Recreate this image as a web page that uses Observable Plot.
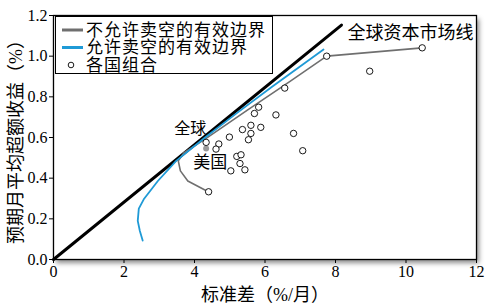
<!DOCTYPE html>
<html>
<head>
<meta charset="utf-8">
<script src="https://cdn.jsdelivr.net/npm/d3@7"></script>
<script src="https://cdn.jsdelivr.net/npm/@observablehq/plot@0.6"></script>
<style>
  body { margin: 0; background: white; }
  #chart svg { display: block; }
</style>
</head>
<body>
<div id="chart"></div>
<script>
// ---- data ----
const xTicks = [0, 2, 4, 6, 8, 10, 12];
const yTicks = [0, 0.2, 0.4, 0.6, 0.8, 1.0, 1.2];

// Capital market line (start and end)
const cmlX = [0, 8.17];
const cmlY = [0, 1.153];

// Efficient frontier, no short selling
const noShortX = [4.39, 3.81, 3.60, 3.54, 3.70, 4.30, 5.50, 6.70, 7.75, 10.46];
const noShortY = [0.333, 0.386, 0.436, 0.485, 0.525, 0.592, 0.735, 0.875, 1.000, 1.041];

// Efficient frontier, short selling allowed
const shortX = [2.53, 2.45, 2.39, 2.42, 2.56, 2.96, 3.48, 4.30, 5.20, 6.20, 7.66];
const shortY = [0.093, 0.140, 0.190, 0.250, 0.296, 0.386, 0.485, 0.600, 0.720, 0.850, 1.033];

// Country portfolios
const countryX = [10.46, 7.75, 8.97, 6.56, 5.82, 5.70, 6.31, 5.60, 5.36, 5.88, 5.60, 5.53, 4.99, 6.81, 7.07, 4.69, 4.61, 4.33, 5.20, 5.32, 5.29, 5.43, 5.03, 4.40];
const countryY = [1.041, 1.000, 0.926, 0.843, 0.749, 0.718, 0.711, 0.660, 0.639, 0.650, 0.620, 0.589, 0.602, 0.620, 0.535, 0.568, 0.543, 0.576, 0.507, 0.515, 0.472, 0.441, 0.436, 0.333];

// US point
const usX = [4.33];
const usY = [0.546];

const legendLabels = ["不允许卖空的有效边界", "允许卖空的有效边界", "各国组合"];
const xLabel = "标准差（%/月）";
const yLabel = "预期月平均超额收益（%）";
const cmlLabel = "全球资本市场线";
const globalLabel = "全球";
const usLabel = "美国";

// ---- build tables ----
const cml = cmlX.map((x, i) => ({x, y: cmlY[i]}));
const noShort = noShortX.map((x, i) => ({x, y: noShortY[i]}));
const shortA = shortX.map((x, i) => ({x, y: shortY[i]}));
const countries = countryX.map((x, i) => ({x, y: countryY[i]}));
const us = usX.map((x, i) => ({x, y: usY[i]}));
const globalPt = countries.filter(d => d.x === 4.33);

const GRAY = "#6f6f6f";
const BLUE = "#1f9ad6";
const FONT = "'Liberation Serif', 'Noto Sans CJK SC', serif";

const W = 490, H = 307, ML = 53, MR = 14, MT = 15, MB = 48;

const chart = Plot.plot({
  width: W,
  height: H,
  marginLeft: ML,
  marginRight: MR,
  marginTop: MT,
  marginBottom: MB,
  style: {fontFamily: FONT, fontSize: "16px", background: "white", color: "black", overflow: "visible"},
  x: {domain: [0, 12], ticks: xTicks, tickSize: 4, tickPadding: 2, label: xLabel, labelAnchor: "center", labelOffset: 41, labelArrow: "none"},
  y: {domain: [0, 1.2], ticks: yTicks, tickSize: 4, tickPadding: 2, tickFormat: d3.format(".1f"), label: yLabel, labelAnchor: "center", labelOffset: 44, labelArrow: "none"},
  marks: [
    Plot.frame({stroke: "black", strokeWidth: 1.3, fill: "white"}),
    Plot.line(cml, {x: "x", y: "y", stroke: "black", strokeWidth: 3}),
    Plot.line(noShort, {x: "x", y: "y", stroke: GRAY, strokeWidth: 1.6}),
    Plot.line(shortA, {x: "x", y: "y", stroke: BLUE, strokeWidth: 1.8}),
    Plot.dot(us, {x: "x", y: "y", r: 3, fill: "#999", stroke: "none"}),
    Plot.dot(countries, {x: "x", y: "y", r: 3.2, fill: "white", stroke: "black", strokeWidth: 0.9}),
    Plot.text(globalPt, {x: "x", y: "y", text: () => globalLabel, dx: -16, dy: -14, fontSize: 16}),
    Plot.text(us, {x: "x", y: "y", text: () => usLabel, dx: 4, dy: 14, fontSize: 17}),
    Plot.text(cml.slice(-1), {x: "x", y: "y", text: () => cmlLabel, textAnchor: "start", dx: 6, dy: 8, fontSize: 18})
  ]
});

const svg = d3.select(chart);
// soft shadow behind frame
const defs = svg.insert("defs", ":first-child");
defs.append("filter").attr("id", "shadowblur").attr("x", "-10%").attr("y", "-10%").attr("width", "120%").attr("height", "120%")
  .append("feGaussianBlur").attr("stdDeviation", 2.5);
svg.insert("rect", "defs + *")
  .attr("x", ML + 3).attr("y", MT + 4).attr("width", W - ML - MR).attr("height", H - MT - MB)
  .attr("fill", "rgba(0,0,0,0.45)").attr("filter", "url(#shadowblur)");
// larger axis titles
svg.selectAll("[aria-label='x-axis label'], [aria-label='y-axis label']").attr("font-size", 18);

// legend (inside plot, top-left)
const lg = svg.append("g").attr("font-family", FONT).attr("font-size", 17).attr("text-anchor", "start");
lg.append("rect").attr("x", 55.5).attr("y", 16.5).attr("width", 217).attr("height", 57)
  .attr("fill", "white").attr("stroke", "black").attr("stroke-width", 1);
const rowsY = [30, 47.5, 65];
lg.append("line").attr("x1", 62).attr("x2", 83).attr("y1", rowsY[0]).attr("y2", rowsY[0]).attr("stroke", GRAY).attr("stroke-width", 3);
lg.append("line").attr("x1", 62).attr("x2", 83).attr("y1", rowsY[1]).attr("y2", rowsY[1]).attr("stroke", BLUE).attr("stroke-width", 3);
lg.append("circle").attr("cx", 71).attr("cy", rowsY[2]).attr("r", 2.8).attr("fill", "white").attr("stroke", "black").attr("stroke-width", 0.9);
legendLabels.forEach((t, i) => {
  lg.append("text").attr("x", 86).attr("y", rowsY[i]).attr("dy", "0.35em").attr("text-anchor", "start")
    .attr("letter-spacing", 1).text(t);
});

document.getElementById("chart").append(chart);
</script>
</body>
</html>
